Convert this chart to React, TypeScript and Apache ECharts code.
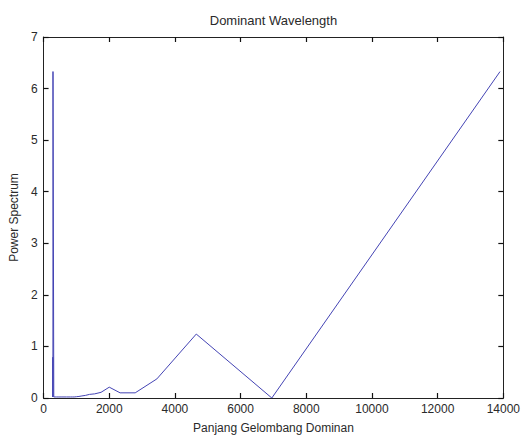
import React, { useEffect, useRef } from "react";
import * as echarts from "echarts";

const titleText = "Dominant Wavelength";
const xName = "Panjang Gelombang Dominan";
const yName = "Power Spectrum";

const wavelength = [13900, 6950, 4650, 3450, 2790, 2330, 2000, 1750, 1556, 1400, 1273, 1167, 1077, 1000, 933, 875, 824, 700, 560, 467, 400, 350, 311, 290, 287, 284, 281, 278];
const power = [6.33, 0, 1.24, 0.37, 0.1, 0.1, 0.21, 0.11, 0.08, 0.07, 0.05, 0.04, 0.03, 0.025, 0.02, 0.02, 0.02, 0.02, 0.02, 0.02, 0.02, 0.02, 0.02, 0.02, 6.33, 0.02, 0.79, 0.02];

const FONT = "Liberation Sans, Arial, sans-serif";
const AXIS_COLOR = "#222";
const TEXT_COLOR = "#2a2a2a";

export default function App() {
  const ref = useRef<HTMLDivElement>(null);
  useEffect(() => {
    if (!ref.current) return;
    const chart = echarts.init(ref.current, undefined, { renderer: "svg" });
    const axisLine = { show: true, onZero: false, lineStyle: { color: AXIS_COLOR, width: 1 } };
    const axisTick = { show: true, inside: true, length: 5, lineStyle: { color: "#111", width: 1.2 } };
    const plain = (v: number) => String(v);
    chart.setOption({
      animation: false,
      backgroundColor: "#fff",
      textStyle: { fontFamily: FONT },
      grid: { left: 41, right: 18, top: 37, bottom: 37, containLabel: false },
      xAxis: [
        {
          type: "value",
          min: 0,
          max: 14000,
          interval: 2000,
          position: "bottom",
          name: xName,
          nameLocation: "middle",
          nameGap: 24,
          nameTextStyle: { fontSize: 12, color: TEXT_COLOR, fontFamily: FONT },
          axisLabel: { fontSize: 12, color: TEXT_COLOR, margin: 5, fontFamily: FONT, formatter: plain },
          axisLine,
          axisTick,
          splitLine: { show: false },
        },
        {
          type: "value",
          min: 0,
          max: 14000,
          interval: 2000,
          position: "top",
          name: titleText,
          nameLocation: "middle",
          nameGap: 10,
          nameTextStyle: { fontSize: 13, color: TEXT_COLOR, fontFamily: FONT },
          axisLabel: { show: false },
          axisLine,
          axisTick,
          splitLine: { show: false },
        },
      ],
      yAxis: [
        {
          type: "value",
          min: 0,
          max: 7,
          interval: 1,
          position: "left",
          name: yName,
          nameLocation: "middle",
          nameGap: 23,
          nameTextStyle: { fontSize: 12, color: TEXT_COLOR, fontFamily: FONT },
          axisLabel: { fontSize: 12, color: TEXT_COLOR, margin: 6, fontFamily: FONT, formatter: plain },
          axisLine,
          axisTick,
          splitLine: { show: false },
        },
        {
          type: "value",
          min: 0,
          max: 7,
          interval: 1,
          position: "right",
          axisLabel: { show: false },
          axisLine,
          axisTick,
          splitLine: { show: false },
        },
      ],
      series: [
        {
          type: "line",
          xAxisIndex: 0,
          yAxisIndex: 0,
          data: wavelength.map((w, i) => [w, power[i]]),
          showSymbol: false,
          symbol: "none",
          lineStyle: { color: "#4444b4", width: 1 },
        },
      ],
    });
    return () => chart.dispose();
  }, []);
  return <div ref={ref} style={{ width: 523, height: 439, position: "absolute", left: 0, top: 0 }} />;
}
